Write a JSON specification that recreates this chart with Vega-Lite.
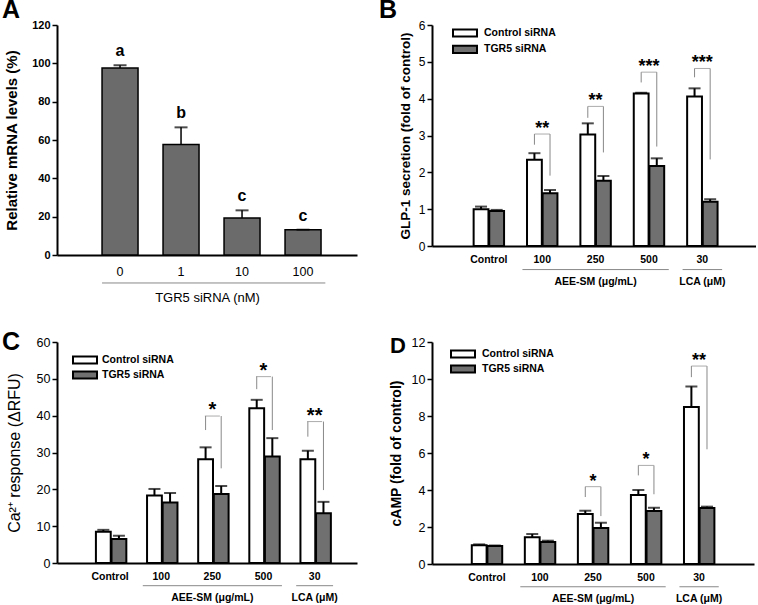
{
  "$schema": "https://vega.github.io/schema/vega-lite/v6.json",
  "background": "white",
  "padding": {"left": 2, "top": -2, "right": 0, "bottom": 0},
  "columns": 2,
  "spacing": {"row": 87, "column": 75},
  "bounds": "flush",
  "resolve": {"scale": {"fill": "independent"}, "legend": {"fill": "independent"}},
  "config": {
    "font": "Liberation Sans",
    "view": {"stroke": null},
    "mark": {"color": "black"},
    "axis": {"grid": false, "domainColor": "black", "tickColor": "black", "labelColor": "black", "titleColor": "black", "domainWidth": 2, "tickWidth": 1.5, "tickSize": 5, "labelPadding": 2, "labelOverlap": false},
    "legend": {"orient": "none", "title": null, "symbolType": "M-2,-0.6H2V0.6H-2Z", "symbolSize": 144, "symbolStrokeColor": "black", "symbolStrokeWidth": 2, "labelFontSize": 10.5, "labelFontWeight": "bold", "padding": 0, "labelColor": "black"},
    "title": {"fontSize": 25, "fontWeight": "bold", "anchor": "start", "frame": "group", "baseline": "alphabetic", "offset": 0, "color": "black"}
  },
  "datasets": {
    "A": [
      {"conc": "0", "mean": 97.6, "hi": 99.0, "letter": "a"},
      {"conc": "1", "mean": 57.6, "hi": 66.6, "letter": "b"},
      {"conc": "10", "mean": 19.3, "hi": 23.3, "letter": "c"},
      {"conc": "100", "mean": 13.2, "hi": 13.2, "letter": "c"}
    ],
    "Bbars": [
      {"group": "Control", "siRNA": "Control siRNA", "mean": 1.0, "hi": 1.07},
      {"group": "Control", "siRNA": "TGR5 siRNA", "mean": 0.95, "hi": 0.98},
      {"group": "100", "siRNA": "Control siRNA", "mean": 2.34, "hi": 2.52},
      {"group": "100", "siRNA": "TGR5 siRNA", "mean": 1.43, "hi": 1.52},
      {"group": "250", "siRNA": "Control siRNA", "mean": 3.03, "hi": 3.33},
      {"group": "250", "siRNA": "TGR5 siRNA", "mean": 1.77, "hi": 1.9},
      {"group": "500", "siRNA": "Control siRNA", "mean": 4.14, "hi": 4.16},
      {"group": "500", "siRNA": "TGR5 siRNA", "mean": 2.17, "hi": 2.38},
      {"group": "30", "siRNA": "Control siRNA", "mean": 4.06, "hi": 4.28},
      {"group": "30", "siRNA": "TGR5 siRNA", "mean": 1.2, "hi": 1.27}
    ],
    "Blegs": [
      {"group": "100", "siRNA": "Control siRNA", "lo": 2.75, "top": 3.04},
      {"group": "100", "siRNA": "TGR5 siRNA", "lo": 1.91, "top": 3.04},
      {"group": "250", "siRNA": "Control siRNA", "lo": 3.48, "top": 3.79},
      {"group": "250", "siRNA": "TGR5 siRNA", "lo": 2.54, "top": 3.79},
      {"group": "500", "siRNA": "Control siRNA", "lo": 4.44, "top": 4.72},
      {"group": "500", "siRNA": "TGR5 siRNA", "lo": 2.7, "top": 4.72},
      {"group": "30", "siRNA": "Control siRNA", "lo": 4.58, "top": 4.82},
      {"group": "30", "siRNA": "TGR5 siRNA", "lo": 2.35, "top": 4.82}
    ],
    "Bsig": [
      {"group": "100", "top": 3.04, "stars": "**"},
      {"group": "250", "top": 3.79, "stars": "**"},
      {"group": "500", "top": 4.72, "stars": "***"},
      {"group": "30", "top": 4.82, "stars": "***"}
    ],
    "Cbars": [
      {"group": "Control", "siRNA": "Control siRNA", "mean": 8.5, "hi": 9.0},
      {"group": "Control", "siRNA": "TGR5 siRNA", "mean": 6.5, "hi": 7.4},
      {"group": "100", "siRNA": "Control siRNA", "mean": 18.3, "hi": 20.1},
      {"group": "100", "siRNA": "TGR5 siRNA", "mean": 16.4, "hi": 19.0},
      {"group": "250", "siRNA": "Control siRNA", "mean": 28.2, "hi": 31.4},
      {"group": "250", "siRNA": "TGR5 siRNA", "mean": 18.7, "hi": 20.9},
      {"group": "500", "siRNA": "Control siRNA", "mean": 42.0, "hi": 44.3},
      {"group": "500", "siRNA": "TGR5 siRNA", "mean": 28.9, "hi": 33.9},
      {"group": "30", "siRNA": "Control siRNA", "mean": 28.2, "hi": 30.5},
      {"group": "30", "siRNA": "TGR5 siRNA", "mean": 13.5, "hi": 16.6}
    ],
    "Clegs": [
      {"group": "250", "siRNA": "Control siRNA", "lo": 36.1, "top": 39.9},
      {"group": "250", "siRNA": "TGR5 siRNA", "lo": 25.7, "top": 39.9},
      {"group": "500", "siRNA": "Control siRNA", "lo": 47.2, "top": 50.6},
      {"group": "500", "siRNA": "TGR5 siRNA", "lo": 36.1, "top": 50.6},
      {"group": "30", "siRNA": "Control siRNA", "lo": 34.3, "top": 38.4},
      {"group": "30", "siRNA": "TGR5 siRNA", "lo": 19.8, "top": 38.4}
    ],
    "Csig": [
      {"group": "250", "top": 39.9, "stars": "*"},
      {"group": "500", "top": 50.6, "stars": "*"},
      {"group": "30", "top": 38.4, "stars": "**"}
    ],
    "Dbars": [
      {"group": "Control", "siRNA": "Control siRNA", "mean": 1.01, "hi": 1.06},
      {"group": "Control", "siRNA": "TGR5 siRNA", "mean": 0.97, "hi": 1.0},
      {"group": "100", "siRNA": "Control siRNA", "mean": 1.44, "hi": 1.62},
      {"group": "100", "siRNA": "TGR5 siRNA", "mean": 1.19, "hi": 1.26},
      {"group": "250", "siRNA": "Control siRNA", "mean": 2.7, "hi": 2.88},
      {"group": "250", "siRNA": "TGR5 siRNA", "mean": 1.94, "hi": 2.23},
      {"group": "500", "siRNA": "Control siRNA", "mean": 3.73, "hi": 4.0},
      {"group": "500", "siRNA": "TGR5 siRNA", "mean": 2.86, "hi": 3.04},
      {"group": "30", "siRNA": "Control siRNA", "mean": 8.48, "hi": 9.6},
      {"group": "30", "siRNA": "TGR5 siRNA", "mean": 3.03, "hi": 3.1}
    ],
    "Dlegs": [
      {"group": "250", "siRNA": "Control siRNA", "lo": 3.62, "top": 4.18},
      {"group": "250", "siRNA": "TGR5 siRNA", "lo": 2.59, "top": 4.18},
      {"group": "500", "siRNA": "Control siRNA", "lo": 4.79, "top": 5.33},
      {"group": "500", "siRNA": "TGR5 siRNA", "lo": 3.77, "top": 5.33},
      {"group": "30", "siRNA": "Control siRNA", "lo": 10.1, "top": 10.7},
      {"group": "30", "siRNA": "TGR5 siRNA", "lo": 6.2, "top": 10.7}
    ],
    "Dsig": [
      {"group": "250", "top": 4.18, "stars": "*"},
      {"group": "500", "top": 5.33, "stars": "*"},
      {"group": "30", "top": 10.7, "stars": "**"}
    ],
    "groups": [
      {"from": "100", "to": "500", "mid": "250", "label": "AEE-SM (μg/mL)"},
      {"from": "30", "to": "30", "mid": "30", "label": "LCA (μM)"}
    ]
  },
  "concat": [
    {
      "width": 300, "height": 230,
      "title": {"text": "A", "dx": -55, "dy": 8},
      "data": {"name": "A"},
      "encoding": {
        "x": {"field": "conc", "type": "nominal", "scale": {"domain": ["0", "1", "10", "100"], "paddingInner": 0.41, "paddingOuter": 0.664, "align": 0.556},
          "axis": {"title": "TGR5 siRNA (nM)", "labelAngle": 0, "ticks": false, "labelFontSize": 12.5, "labelPadding": 10, "titleFontSize": 13, "titleFontWeight": "normal", "titlePadding": 14}}
      },
      "layer": [
        {"mark": {"type": "bar", "fill": "#6b6b6b", "stroke": "black", "strokeWidth": 1.5},
          "encoding": {"y": {"field": "mean", "type": "quantitative", "scale": {"domain": [0, 120], "nice": false},
            "axis": {"title": "Relative mRNA levels (%)", "values": [0, 20, 40, 60, 80, 100, 120], "tickCount": 7, "labelOverlap": false, "labelFontSize": 11, "labelFontWeight": "bold", "titleFontSize": 15, "titleFontWeight": "bold", "titlePadding": 12}}}},
        {"mark": {"type": "rule", "strokeWidth": 1.5}, "encoding": {"y": {"field": "mean", "type": "quantitative"}, "y2": {"field": "hi"}}},
        {"mark": {"type": "tick", "size": 13, "thickness": 2}, "encoding": {"y": {"field": "hi", "type": "quantitative"}}},
        {"mark": {"type": "text", "fontSize": 16, "fontWeight": "bold", "baseline": "alphabetic", "dy": -9}, "encoding": {"y": {"field": "hi", "type": "quantitative"}, "text": {"field": "letter"}}},
        {"data": {"values": [{"from": "0", "to": "100"}]}, "mark": {"type": "rule", "color": "#888", "strokeWidth": 1},
          "encoding": {"x": {"field": "from", "type": "nominal", "bandPosition": 0}, "x2": {"field": "to", "bandPosition": 1.12}, "y": {"datum": -14.6}}}
      ]
    },
    {
      "width": 324, "height": 221,
      "title": {"text": "B", "dx": -53, "dy": 8},
      "encoding": {
        "x": {"field": "group", "type": "nominal", "scale": {"domain": ["Control", "100", "250", "500", "30"], "paddingInner": 0.43, "paddingOuter": 0.75, "align": 0.52},
          "axis": {"title": null, "labelAngle": 0, "ticks": false, "labelFontSize": 10.5, "labelFontWeight": "bold", "labelPadding": 8}}
      },
      "layer": [
        {"data": {"name": "Bbars"}, "mark": {"type": "bar", "stroke": "black", "strokeWidth": 2},
          "encoding": {
            "xOffset": {"field": "siRNA", "type": "nominal", "scale": {"paddingInner": 0.05}},
            "y": {"field": "mean", "type": "quantitative", "scale": {"domain": [0, 6], "nice": false},
              "axis": {"title": "GLP-1 secretion (fold of control)", "values": [0, 1, 2, 3, 4, 5, 6], "tickCount": 7, "labelOverlap": false, "labelFontSize": 12, "titleFontSize": 13.5, "titleFontWeight": "bold", "titlePadding": 6}},
            "fill": {"field": "siRNA", "type": "nominal", "scale": {"domain": ["Control siRNA", "TGR5 siRNA"], "range": ["white", "#707070"]},
              "legend": {"legendX": 26, "legendY": 1, "labelOffset": 12, "rowPadding": 0.4, "labelExpr": "datum.label == 'TGR5 siRNA' ? '\u00a0\u00a0\u00a0TGR5 siRNA' : datum.label"}}
          }},
        {"data": {"name": "Bbars"}, "mark": {"type": "rule", "strokeWidth": 2}, "encoding": {"xOffset": {"field": "siRNA", "type": "nominal"}, "y": {"field": "mean", "type": "quantitative"}, "y2": {"field": "hi"}}},
        {"data": {"name": "Bbars"}, "mark": {"type": "tick", "size": 12, "thickness": 2}, "encoding": {"xOffset": {"field": "siRNA", "type": "nominal"}, "y": {"field": "hi", "type": "quantitative"}}},
        {"data": {"name": "Blegs"}, "mark": {"type": "rule", "color": "#888", "strokeWidth": 1}, "encoding": {"xOffset": {"field": "siRNA", "type": "nominal"}, "y": {"field": "lo", "type": "quantitative"}, "y2": {"field": "top"}}},
        {"data": {"name": "Bsig"}, "mark": {"type": "tick", "size": 15.5, "thickness": 1, "color": "#888"}, "encoding": {"y": {"field": "top", "type": "quantitative"}}},
        {"data": {"name": "Bsig"}, "mark": {"type": "text", "fontSize": 18, "fontWeight": "bold", "baseline": "alphabetic", "dy": 0}, "encoding": {"y": {"field": "top", "type": "quantitative"}, "text": {"field": "stars"}}},
        {"data": {"name": "groups"}, "mark": {"type": "rule", "color": "#888", "strokeWidth": 1},
          "encoding": {"x": {"field": "from", "type": "nominal", "bandPosition": -0.15}, "x2": {"field": "to", "bandPosition": 1.15}, "y": {"datum": -0.64}}},
        {"data": {"name": "groups"}, "mark": {"type": "text", "fontSize": 10.5, "fontWeight": "bold", "baseline": "middle"},
          "encoding": {"x": {"field": "mid", "type": "nominal"}, "y": {"datum": -0.97}, "text": {"field": "label"}}}
      ]
    },
    {
      "width": 300, "height": 221,
      "title": {"text": "C", "dx": -55, "dy": 23},
      "encoding": {
        "x": {"field": "group", "type": "nominal", "scale": {"domain": ["Control", "100", "250", "500", "30"], "paddingInner": 0.445, "paddingOuter": 0.656, "align": 0.58},
          "axis": {"title": null, "labelAngle": 0, "ticks": false, "labelFontSize": 10.5, "labelFontWeight": "bold", "labelPadding": 8}}
      },
      "layer": [
        {"data": {"name": "Cbars"}, "mark": {"type": "bar", "stroke": "black", "strokeWidth": 2},
          "encoding": {
            "xOffset": {"field": "siRNA", "type": "nominal", "scale": {"paddingInner": 0.05}},
            "y": {"field": "mean", "type": "quantitative", "scale": {"domain": [0, 60], "nice": false},
              "axis": {"title": "Ca²⁺ response (ΔRFU)", "values": [0, 10, 20, 30, 40, 50, 60], "tickCount": 7, "labelOverlap": false, "labelFontSize": 12.5, "titleFontSize": 16, "titleFontWeight": "normal", "titlePadding": 14}},
            "fill": {"field": "siRNA", "type": "nominal", "scale": {"domain": ["Control siRNA", "TGR5 siRNA"], "range": ["white", "#707070"]},
              "legend": {"legendX": 21, "legendY": 11, "labelOffset": 10, "rowPadding": -4}}
          }},
        {"data": {"name": "Cbars"}, "mark": {"type": "rule", "strokeWidth": 2}, "encoding": {"xOffset": {"field": "siRNA", "type": "nominal"}, "y": {"field": "mean", "type": "quantitative"}, "y2": {"field": "hi"}}},
        {"data": {"name": "Cbars"}, "mark": {"type": "tick", "size": 12, "thickness": 2}, "encoding": {"xOffset": {"field": "siRNA", "type": "nominal"}, "y": {"field": "hi", "type": "quantitative"}}},
        {"data": {"name": "Clegs"}, "mark": {"type": "rule", "color": "#888", "strokeWidth": 1}, "encoding": {"xOffset": {"field": "siRNA", "type": "nominal"}, "y": {"field": "lo", "type": "quantitative"}, "y2": {"field": "top"}}},
        {"data": {"name": "Csig"}, "mark": {"type": "tick", "size": 15, "thickness": 1, "color": "#888"}, "encoding": {"y": {"field": "top", "type": "quantitative"}}},
        {"data": {"name": "Csig"}, "mark": {"type": "text", "fontSize": 20, "fontWeight": "bold", "baseline": "alphabetic", "dy": 0}, "encoding": {"y": {"field": "top", "type": "quantitative"}, "text": {"field": "stars"}}},
        {"data": {"name": "groups"}, "mark": {"type": "rule", "color": "#888", "strokeWidth": 1},
          "encoding": {"x": {"field": "from", "type": "nominal", "bandPosition": -0.15}, "x2": {"field": "to", "bandPosition": 1.15}, "y": {"datum": -6.16}}},
        {"data": {"name": "groups"}, "mark": {"type": "text", "fontSize": 10.5, "fontWeight": "bold", "baseline": "middle"},
          "encoding": {"x": {"field": "mid", "type": "nominal"}, "y": {"datum": -9.4}, "text": {"field": "label"}}}
      ]
    },
    {
      "width": 322, "height": 222,
      "title": {"text": "D", "dx": -42, "dy": 26, "fontSize": 22},
      "encoding": {
        "x": {"field": "group", "type": "nominal", "scale": {"domain": ["Control", "100", "250", "500", "30"], "paddingInner": 0.43, "paddingOuter": 0.75, "align": 0.5},
          "axis": {"title": null, "labelAngle": 0, "ticks": false, "labelFontSize": 10.5, "labelFontWeight": "bold", "labelPadding": 8}}
      },
      "layer": [
        {"data": {"name": "Dbars"}, "mark": {"type": "bar", "stroke": "black", "strokeWidth": 2},
          "encoding": {
            "xOffset": {"field": "siRNA", "type": "nominal", "scale": {"paddingInner": 0.05}},
            "y": {"field": "mean", "type": "quantitative", "scale": {"domain": [0, 12], "nice": false},
              "axis": {"title": "cAMP (fold of control)", "values": [0, 2, 4, 6, 8, 10, 12], "tickCount": 7, "labelOverlap": false, "labelFontSize": 12.5, "titleFontSize": 14, "titleFontWeight": "bold", "titlePadding": 8}},
            "fill": {"field": "siRNA", "type": "nominal", "scale": {"domain": ["Control siRNA", "TGR5 siRNA"], "range": ["white", "#707070"]},
              "legend": {"legendX": 24, "legendY": 5, "labelOffset": 12, "rowPadding": -3, "labelExpr": "datum.label == 'TGR5 siRNA' ? '\u00a0\u00a0\u00a0TGR5 siRNA' : datum.label"}}
          }},
        {"data": {"name": "Dbars"}, "mark": {"type": "rule", "strokeWidth": 2}, "encoding": {"xOffset": {"field": "siRNA", "type": "nominal"}, "y": {"field": "mean", "type": "quantitative"}, "y2": {"field": "hi"}}},
        {"data": {"name": "Dbars"}, "mark": {"type": "tick", "size": 12, "thickness": 2}, "encoding": {"xOffset": {"field": "siRNA", "type": "nominal"}, "y": {"field": "hi", "type": "quantitative"}}},
        {"data": {"name": "Dlegs"}, "mark": {"type": "rule", "color": "#888", "strokeWidth": 1}, "encoding": {"xOffset": {"field": "siRNA", "type": "nominal"}, "y": {"field": "lo", "type": "quantitative"}, "y2": {"field": "top"}}},
        {"data": {"name": "Dsig"}, "mark": {"type": "tick", "size": 15.5, "thickness": 1, "color": "#888"}, "encoding": {"y": {"field": "top", "type": "quantitative"}}},
        {"data": {"name": "Dsig"}, "mark": {"type": "text", "fontSize": 18, "fontWeight": "bold", "baseline": "alphabetic", "dy": 0}, "encoding": {"y": {"field": "top", "type": "quantitative"}, "text": {"field": "stars"}}},
        {"data": {"name": "groups"}, "mark": {"type": "rule", "color": "#888", "strokeWidth": 1},
          "encoding": {"x": {"field": "from", "type": "nominal", "bandPosition": -0.15}, "x2": {"field": "to", "bandPosition": 1.15}, "y": {"datum": -1.23}}},
        {"data": {"name": "groups"}, "mark": {"type": "text", "fontSize": 10.5, "fontWeight": "bold", "baseline": "middle"},
          "encoding": {"x": {"field": "mid", "type": "nominal"}, "y": {"datum": -1.88}, "text": {"field": "label"}}}
      ]
    }
  ]
}
